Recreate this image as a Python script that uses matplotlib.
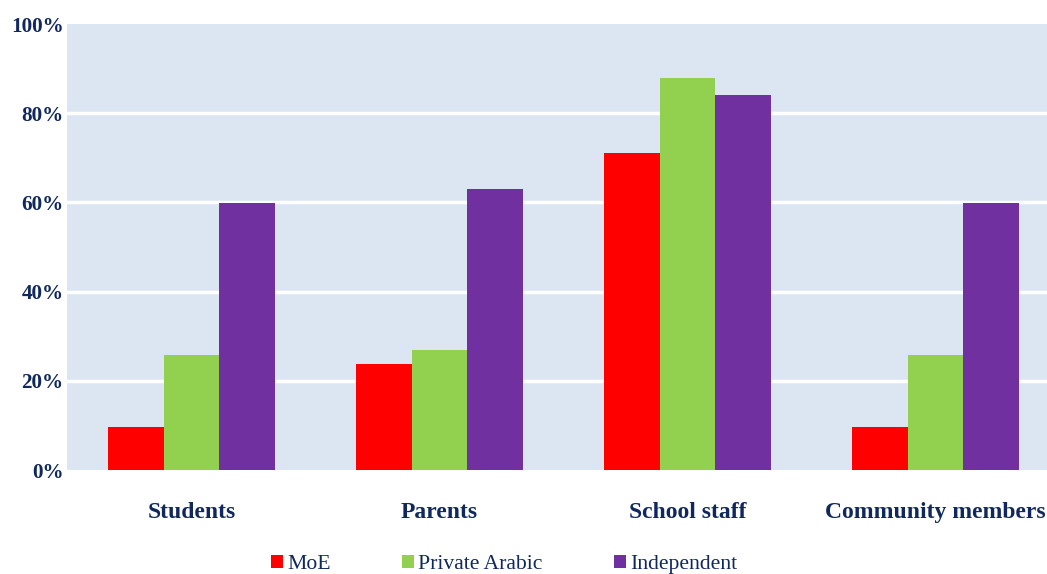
import numpy as np
import matplotlib
matplotlib.use("Agg")
import matplotlib.pyplot as plt
from matplotlib.patches import Patch

# Data
categories = ["Students", "Parents", "School staff", "Community members"]
series_names = ["MoE", "Private Arabic", "Independent"]
moe = [9.6, 23.7, 71, 9.6]
private_arabic = [25.7, 26.8, 88, 25.7]
independent = [59.8, 63, 84, 59.8]
yticks = [0, 20, 40, 60, 80, 100]
ytick_labels = ["0%", "20%", "40%", "60%", "80%", "100%"]

colors = ["#FF0000", "#92D050", "#7030A0"]
navy = "#10285E"
plt.rcParams['font.family'] = ['Liberation Serif', 'DejaVu Serif']

fig = plt.figure(figsize=(10.47, 5.74), dpi=100)
ax = fig.add_axes([67 / 1047, 1 - 470 / 574, 1 - 67 / 1047, (470 - 24) / 574])
ax.set_facecolor("#DCE6F2")

x = np.arange(len(categories))
w = 0.225
for i, vals in enumerate([moe, private_arabic, independent]):
    ax.bar(x + (i - 1) * w, vals, width=w, color=colors[i], zorder=3)

for t in yticks[1:-1]:
    ax.axhline(t, color="white", lw=2.5, zorder=1)

ax.set_xlim(-0.502, 3.45)
ax.set_ylim(0, 100)
ax.set_yticks(yticks)
ax.set_yticklabels(ytick_labels, fontsize=15.2, fontweight="bold", color=navy)
ax.set_xticks(x)
ax.set_xticklabels(categories, fontsize=17, fontweight="bold", color=navy)
ax.tick_params(axis="y", length=0, pad=2.5)
ax.tick_params(axis="x", length=0, pad=23)
for s in ax.spines.values():
    s.set_visible(False)

handles = [Patch(facecolor=c, edgecolor="none") for c in colors]
fig.legend(handles, series_names, loc="center", bbox_to_anchor=(504 / 1047, 0.016),
           ncol=3, frameon=False, prop={"size": 15.6}, labelcolor=navy,
           handlelength=0.55, handleheight=0.55, handletextpad=0.2,
           columnspacing=3.3, borderpad=0)

fig.savefig("out.png", dpi=100)
